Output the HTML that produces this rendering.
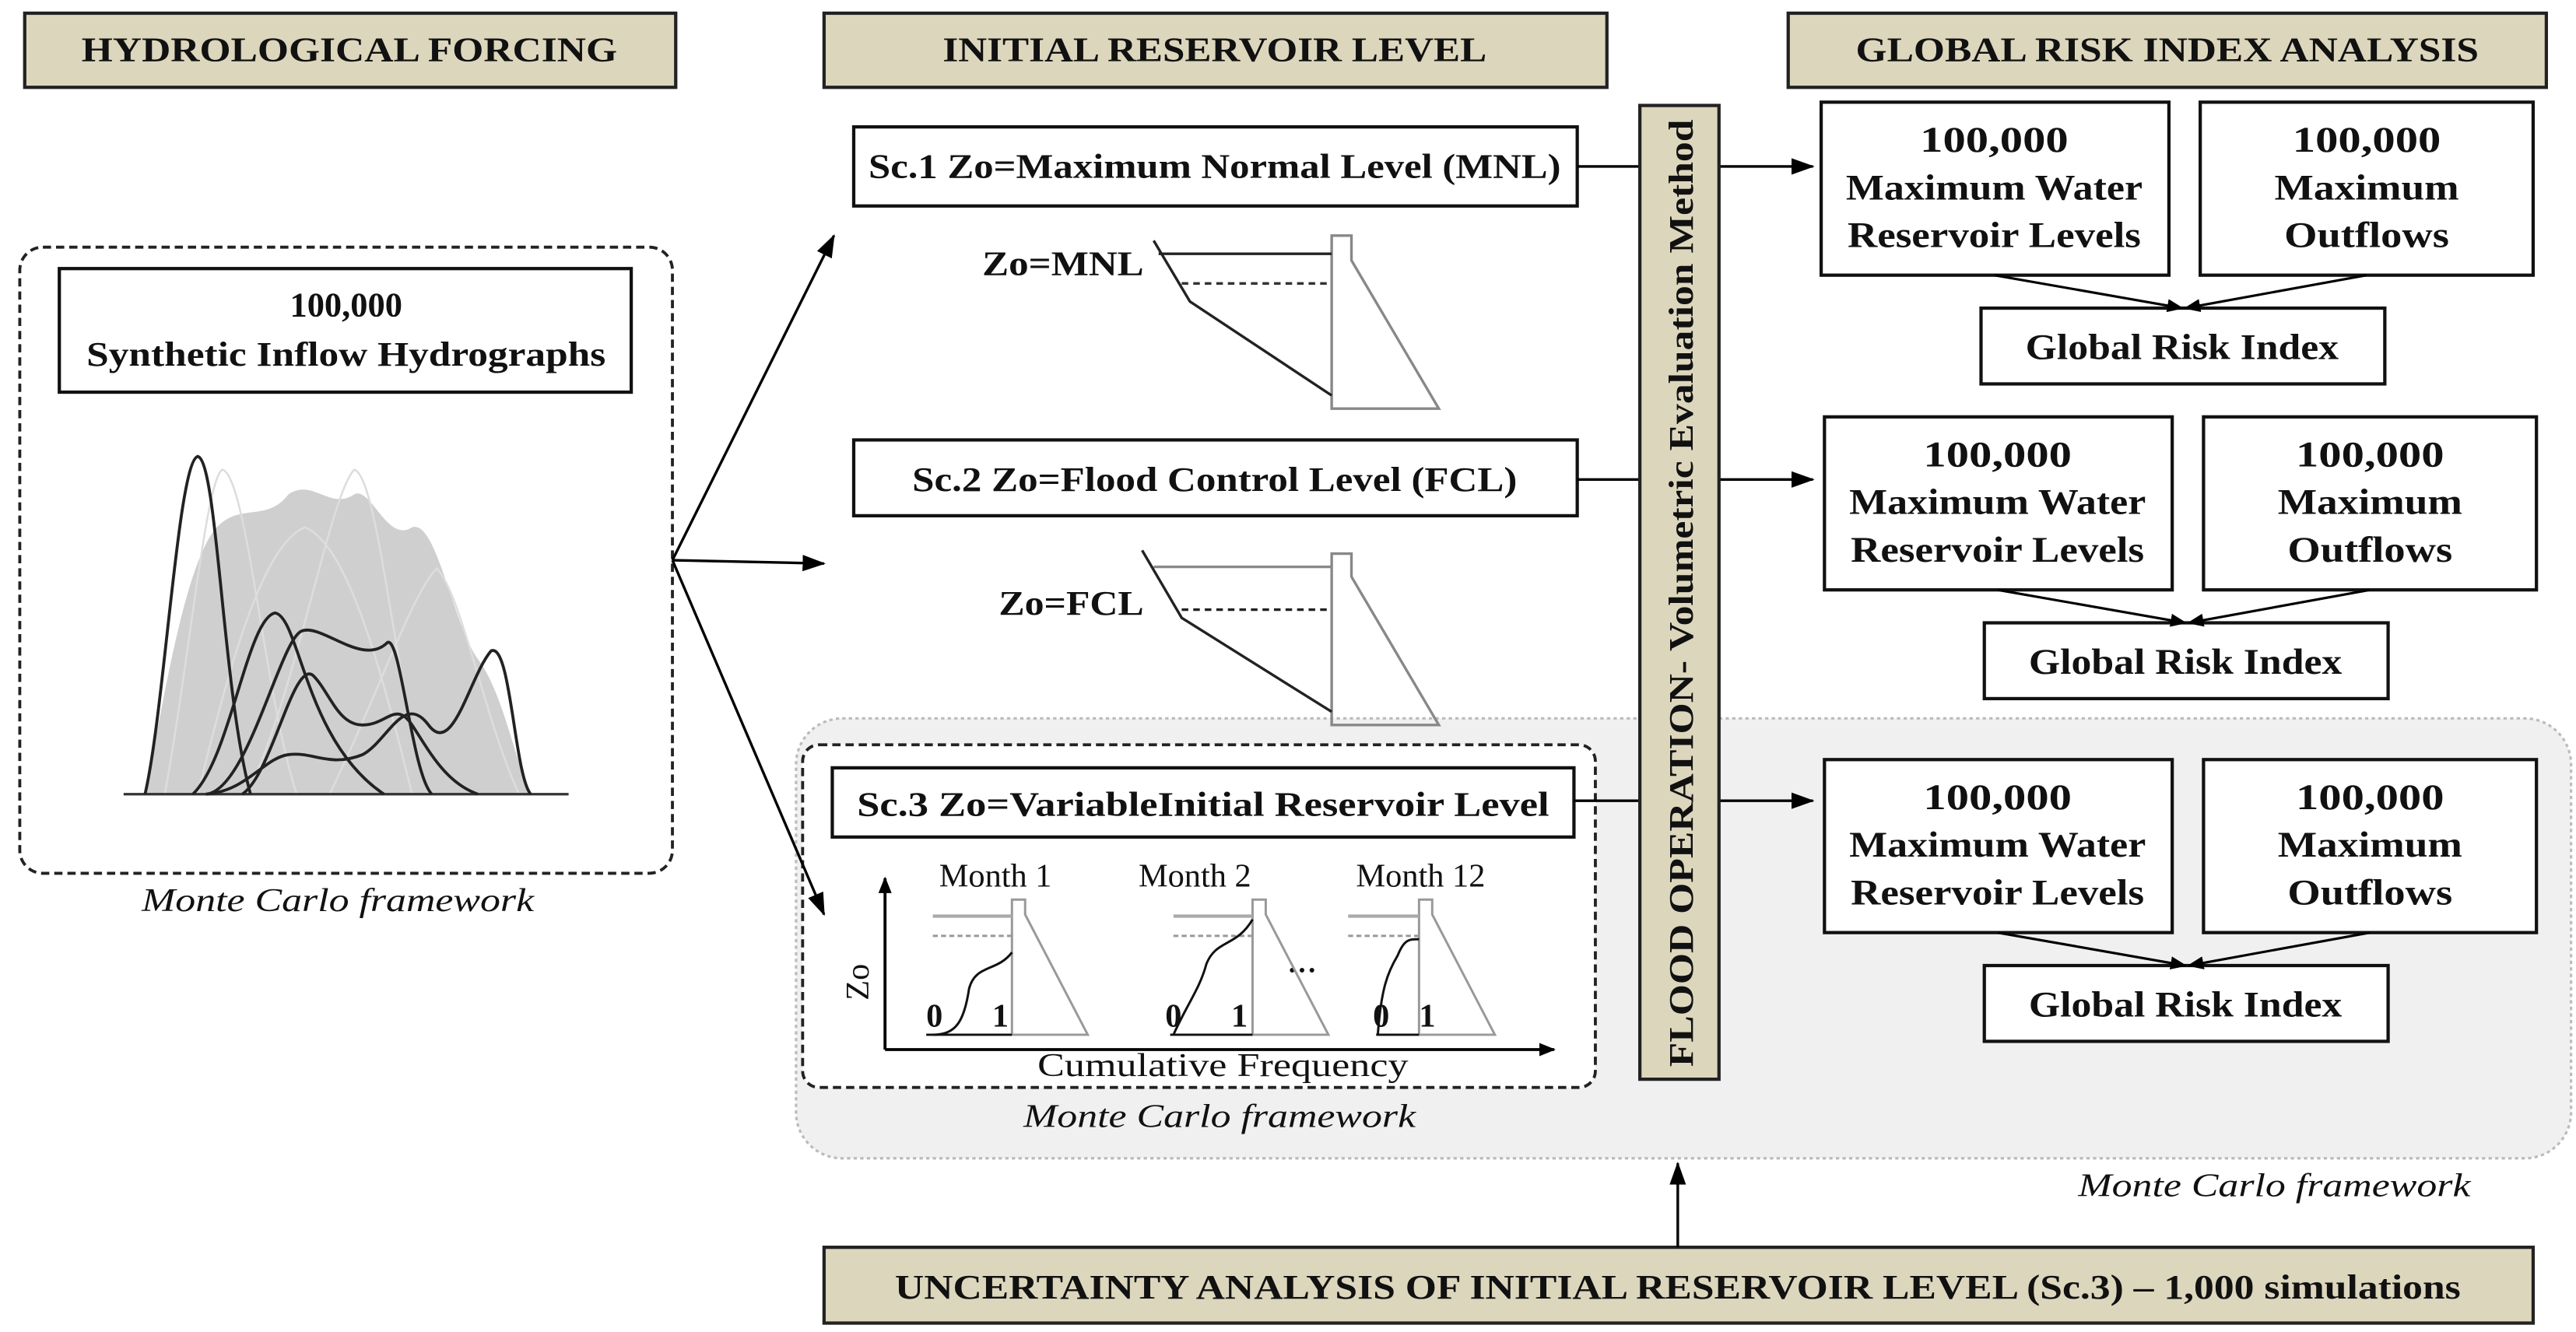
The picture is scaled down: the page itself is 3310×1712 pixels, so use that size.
<!DOCTYPE html>
<html><head><meta charset="utf-8"><style>
html,body{margin:0;padding:0;background:#fff;}
svg{display:block;}
text{font-family:"Liberation Serif",serif;fill:#111;}
.b{font-weight:bold;}
</style></head><body>
<svg width="3310" height="1712" viewBox="0 0 1563 808.4" xmlns="http://www.w3.org/2000/svg">
<defs>
<marker id="ah" markerWidth="10" markerHeight="8" refX="9" refY="4" orient="auto" markerUnits="userSpaceOnUse"><path d="M0,0 L10,4 L0,8 z" fill="#000"/></marker>
<marker id="as" markerWidth="14" markerHeight="10" refX="13" refY="5" orient="auto" markerUnits="userSpaceOnUse"><path d="M0,0 L14,5 L0,10 z" fill="#000"/></marker>
</defs>
<!-- headers -->
<g stroke="#222" stroke-width="2" fill="#dcd6bd">
<rect x="15" y="8" width="395" height="45"/>
<rect x="500" y="8" width="475" height="45"/>
<rect x="1085" y="8" width="460" height="45"/>
<rect x="500" y="757" width="1037" height="46"/>
</g>
<g class="b" font-size="21" text-anchor="middle">
<text x="212" y="37" class="b" textLength="325" lengthAdjust="spacingAndGlyphs">HYDROLOGICAL FORCING</text>
<text x="737" y="37" class="b" textLength="330" lengthAdjust="spacingAndGlyphs">INITIAL  RESERVOIR LEVEL</text>
<text x="1315" y="37" class="b" textLength="378" lengthAdjust="spacingAndGlyphs">GLOBAL RISK INDEX ANALYSIS</text>
<text x="1018" y="788" class="b" textLength="950" lengthAdjust="spacingAndGlyphs">UNCERTAINTY ANALYSIS OF INITIAL RESERVOIR LEVEL  (Sc.3) – 1,000 simulations</text>
</g>
<!-- gray MC area -->
<rect x="483" y="436" width="1077" height="267" rx="28" fill="#f0f0f0" stroke="#bbb" stroke-width="1.5" stroke-dasharray="2,2"/>
<text x="1380" y="726" font-size="20" font-style="italic" text-anchor="middle" textLength="238" lengthAdjust="spacingAndGlyphs">Monte Carlo framework</text>
<!-- left MC box -->
<rect x="12" y="150" width="396" height="380" rx="14" fill="#fff" stroke="#222" stroke-width="1.8" stroke-dasharray="5,3"/>
<rect x="36" y="163" width="347" height="75" fill="#fff" stroke="#111" stroke-width="2"/>
<text x="210" y="192" font-size="21" text-anchor="middle" class="b">100,000</text>
<text x="210" y="222" font-size="21" text-anchor="middle" class="b" textLength="315" lengthAdjust="spacingAndGlyphs">Synthetic Inflow Hydrographs</text>
<text x="205" y="553" font-size="20" font-style="italic" text-anchor="middle" textLength="238" lengthAdjust="spacingAndGlyphs">Monte Carlo framework</text>
<!-- hydrographs -->
<path d="M88,482 C100,420 110,360 125,330 C140,300 160,320 175,300 C190,290 200,310 215,300 C225,295 235,330 250,320 C265,315 275,380 290,400 C305,420 312,460 322,482 Z" fill="#cfcfcf"/>
<g fill="none" stroke="#ddd" stroke-width="1.2">
<path d="M100,482 C115,400 125,290 135,285 C150,290 160,420 180,482"/>
<path d="M150,482 C180,420 200,300 215,285 C230,290 240,420 260,482"/>
<path d="M200,482 C230,420 250,360 265,345 C280,360 295,440 315,482"/>
<path d="M120,482 C140,400 160,330 185,320 C210,330 230,400 250,482"/>
</g>
<line x1="75" y1="482" x2="345" y2="482" stroke="#333" stroke-width="1.5"/>
<g fill="none" stroke="#222" stroke-width="1.8">
<path d="M88,482 C100,430 108,280 120,277 C132,280 135,420 152,482"/>
<path d="M117,482 C140,460 150,375 167,372 C182,375 185,450 233,482"/>
<path d="M125,482 C150,480 170,388 183,383 C195,378 220,405 235,390 C243,385 250,470 262,482"/>
<path d="M125,482 C150,480 160,460 175,458 C190,456 200,466 220,458 C235,450 245,420 260,440 C275,460 285,410 298,395 C310,390 312,470 322,482"/>
<path d="M147,482 C165,470 178,400 190,410 C200,420 205,440 220,440 C235,440 240,425 250,440 C260,455 270,475 290,482"/>
</g>
<!-- Sc boxes -->
<rect x="518" y="77" width="439" height="48" fill="#fff" stroke="#111" stroke-width="2"/>
<text x="737" y="108" font-size="21" text-anchor="middle" class="b" textLength="420" lengthAdjust="spacingAndGlyphs">Sc.1 Zo=Maximum Normal Level (MNL)</text>
<rect x="518" y="267" width="439" height="46" fill="#fff" stroke="#111" stroke-width="2"/>
<text x="737" y="298" font-size="21" text-anchor="middle" class="b" textLength="367" lengthAdjust="spacingAndGlyphs">Sc.2 Zo=Flood Control Level (FCL)</text>
<!-- Sc1 dam -->
<text x="645" y="167" font-size="21" text-anchor="middle" class="b" textLength="98" lengthAdjust="spacingAndGlyphs">Zo=MNL</text>
<g fill="none" stroke-width="1.6">
<polygon points="808,143 820,143 820,158 873,248 808,248" stroke="#888"/>
<line x1="703" y1="154" x2="808" y2="154" stroke="#222"/>
<line x1="717" y1="172" x2="808" y2="172" stroke="#333" stroke-dasharray="4,3"/>
<polyline points="700,146 722,183 808,240" stroke="#222"/>
</g>
<!-- Sc2 dam -->
<text x="650" y="373" font-size="21" text-anchor="middle" class="b" textLength="88" lengthAdjust="spacingAndGlyphs">Zo=FCL</text>
<g fill="none" stroke-width="1.6">
<polygon points="808,336 820,336 820,350 873,440 808,440" stroke="#888"/>
<line x1="700" y1="344" x2="808" y2="344" stroke="#888"/>
<line x1="717" y1="370" x2="808" y2="370" stroke="#222" stroke-dasharray="4,3"/>
<polyline points="693,334 717,375 808,432" stroke="#222"/>
</g>
<!-- Sc3 -->
<rect x="487" y="452" width="481" height="208" rx="10" fill="#fff" stroke="#222" stroke-width="1.8" stroke-dasharray="5,3"/>
<rect x="505" y="466" width="450" height="42" fill="#fff" stroke="#111" stroke-width="2"/>
<text x="730" y="495" font-size="21" text-anchor="middle" class="b" textLength="420" lengthAdjust="spacingAndGlyphs">Sc.3 Zo=VariableInitial Reservoir Level</text>
<text x="740" y="684" font-size="20" font-style="italic" text-anchor="middle" textLength="238" lengthAdjust="spacingAndGlyphs">Monte Carlo framework</text>
<g stroke="#000" stroke-width="1.8" fill="none">
<line x1="537" y1="637" x2="537" y2="533" marker-end="url(#ah)"/>
<line x1="537" y1="637" x2="943" y2="637" marker-end="url(#ah)"/>
</g>
<text x="527" y="596" font-size="20" text-anchor="middle" transform="rotate(-90 527 596)">Zo</text>
<text x="742" y="653" font-size="20" text-anchor="middle" textLength="225" lengthAdjust="spacingAndGlyphs">Cumulative Frequency</text>
<g font-size="20" text-anchor="middle">
<text x="604" y="538">Month 1</text>
<text x="725" y="538">Month 2</text>
<text x="862" y="538">Month 12</text>
<text x="790" y="590" font-size="24">...</text>
</g>
<g fill="none" stroke-width="1.4">
<polygon points="614,546 622,546 622,555 660,628 614,628" stroke="#999"/>
<polygon points="760,546 768,546 768,555 806,628 760,628" stroke="#999"/>
<polygon points="861,546 869,546 869,555 907,628 861,628" stroke="#999"/>
<g stroke="#aaa" stroke-width="2"><line x1="566" y1="556" x2="614" y2="556"/><line x1="712" y1="556" x2="760" y2="556"/><line x1="818" y1="556" x2="861" y2="556"/></g>
<g stroke="#999" stroke-dasharray="3,2"><line x1="566" y1="568" x2="614" y2="568"/><line x1="712" y1="568" x2="760" y2="568"/><line x1="818" y1="568" x2="861" y2="568"/></g>
<g stroke="#111"><line x1="562" y1="628" x2="614" y2="628"/><line x1="710" y1="628" x2="760" y2="628"/><line x1="835" y1="628" x2="861" y2="628"/>
<path d="M566,628 C580,628 585,620 588,600 C592,585 605,590 614,578"/>
<path d="M712,628 C720,610 728,600 732,585 C738,570 750,575 760,558"/>
<path d="M836,628 C838,600 842,590 848,580 C852,570 855,570 861,570"/></g>
</g>
<g font-size="20" text-anchor="middle" class="b"><text x="567" y="623">0</text><text x="607" y="623">1</text><text x="712" y="623">0</text><text x="752" y="623">1</text><text x="838" y="623">0</text><text x="866" y="623">1</text></g>
<!-- fan arrows -->
<g stroke="#000" stroke-width="1.6" fill="none">
<line x1="408" y1="340" x2="506" y2="143" marker-end="url(#as)"/>
<line x1="408" y1="340" x2="500" y2="342" marker-end="url(#as)"/>
<line x1="408" y1="340" x2="500" y2="555" marker-end="url(#as)"/>
</g>
<!-- connectors to vertical box -->
<g stroke="#000" stroke-width="1.6">
<line x1="957" y1="101" x2="995" y2="101"/>
<line x1="957" y1="291" x2="995" y2="291"/>
<line x1="955" y1="486" x2="995" y2="486"/>
<line x1="1043" y1="101" x2="1100" y2="101" marker-end="url(#as)"/>
<line x1="1043" y1="291" x2="1100" y2="291" marker-end="url(#as)"/>
<line x1="1043" y1="486" x2="1100" y2="486" marker-end="url(#as)"/>
<line x1="1018" y1="757" x2="1018" y2="706" marker-end="url(#as)"/>
</g>
<rect x="995" y="64" width="48" height="591" fill="#dcd6bd" stroke="#222" stroke-width="2"/>
<text x="1027" y="360" font-size="21" text-anchor="middle" class="b" transform="rotate(-90 1027 360)" textLength="575" lengthAdjust="spacingAndGlyphs">FLOOD OPERATION- Volumetric Evaluation Method</text>
<!-- right rows -->
<g id="row">
<rect x="1105" y="62" width="211" height="105" fill="#fff" stroke="#111" stroke-width="2"/>
<rect x="1335" y="62" width="202" height="105" fill="#fff" stroke="#111" stroke-width="2"/>
<rect x="1202" y="187" width="245" height="46" fill="#fff" stroke="#111" stroke-width="2"/>
<g font-size="22" text-anchor="middle" class="b">
<text x="1210" y="92" textLength="90" lengthAdjust="spacingAndGlyphs">100,000</text><text x="1210" y="121" textLength="180" lengthAdjust="spacingAndGlyphs">Maximum Water</text><text x="1210" y="150" textLength="178" lengthAdjust="spacingAndGlyphs">Reservoir Levels</text>
<text x="1436" y="92" textLength="90" lengthAdjust="spacingAndGlyphs">100,000</text><text x="1436" y="121" textLength="112" lengthAdjust="spacingAndGlyphs">Maximum</text><text x="1436" y="150" textLength="100" lengthAdjust="spacingAndGlyphs">Outflows</text>
<text x="1324" y="218" textLength="190" lengthAdjust="spacingAndGlyphs">Global Risk Index</text>
</g>
<g stroke="#000" stroke-width="1.5"><line x1="1210" y1="167" x2="1324" y2="187" marker-end="url(#ah)"/><line x1="1436" y1="167" x2="1326" y2="187" marker-end="url(#ah)"/></g>
</g>
<use href="#row" x="2" y="191"/>
<use href="#row" x="2" y="399"/>
</svg>
</body></html>
